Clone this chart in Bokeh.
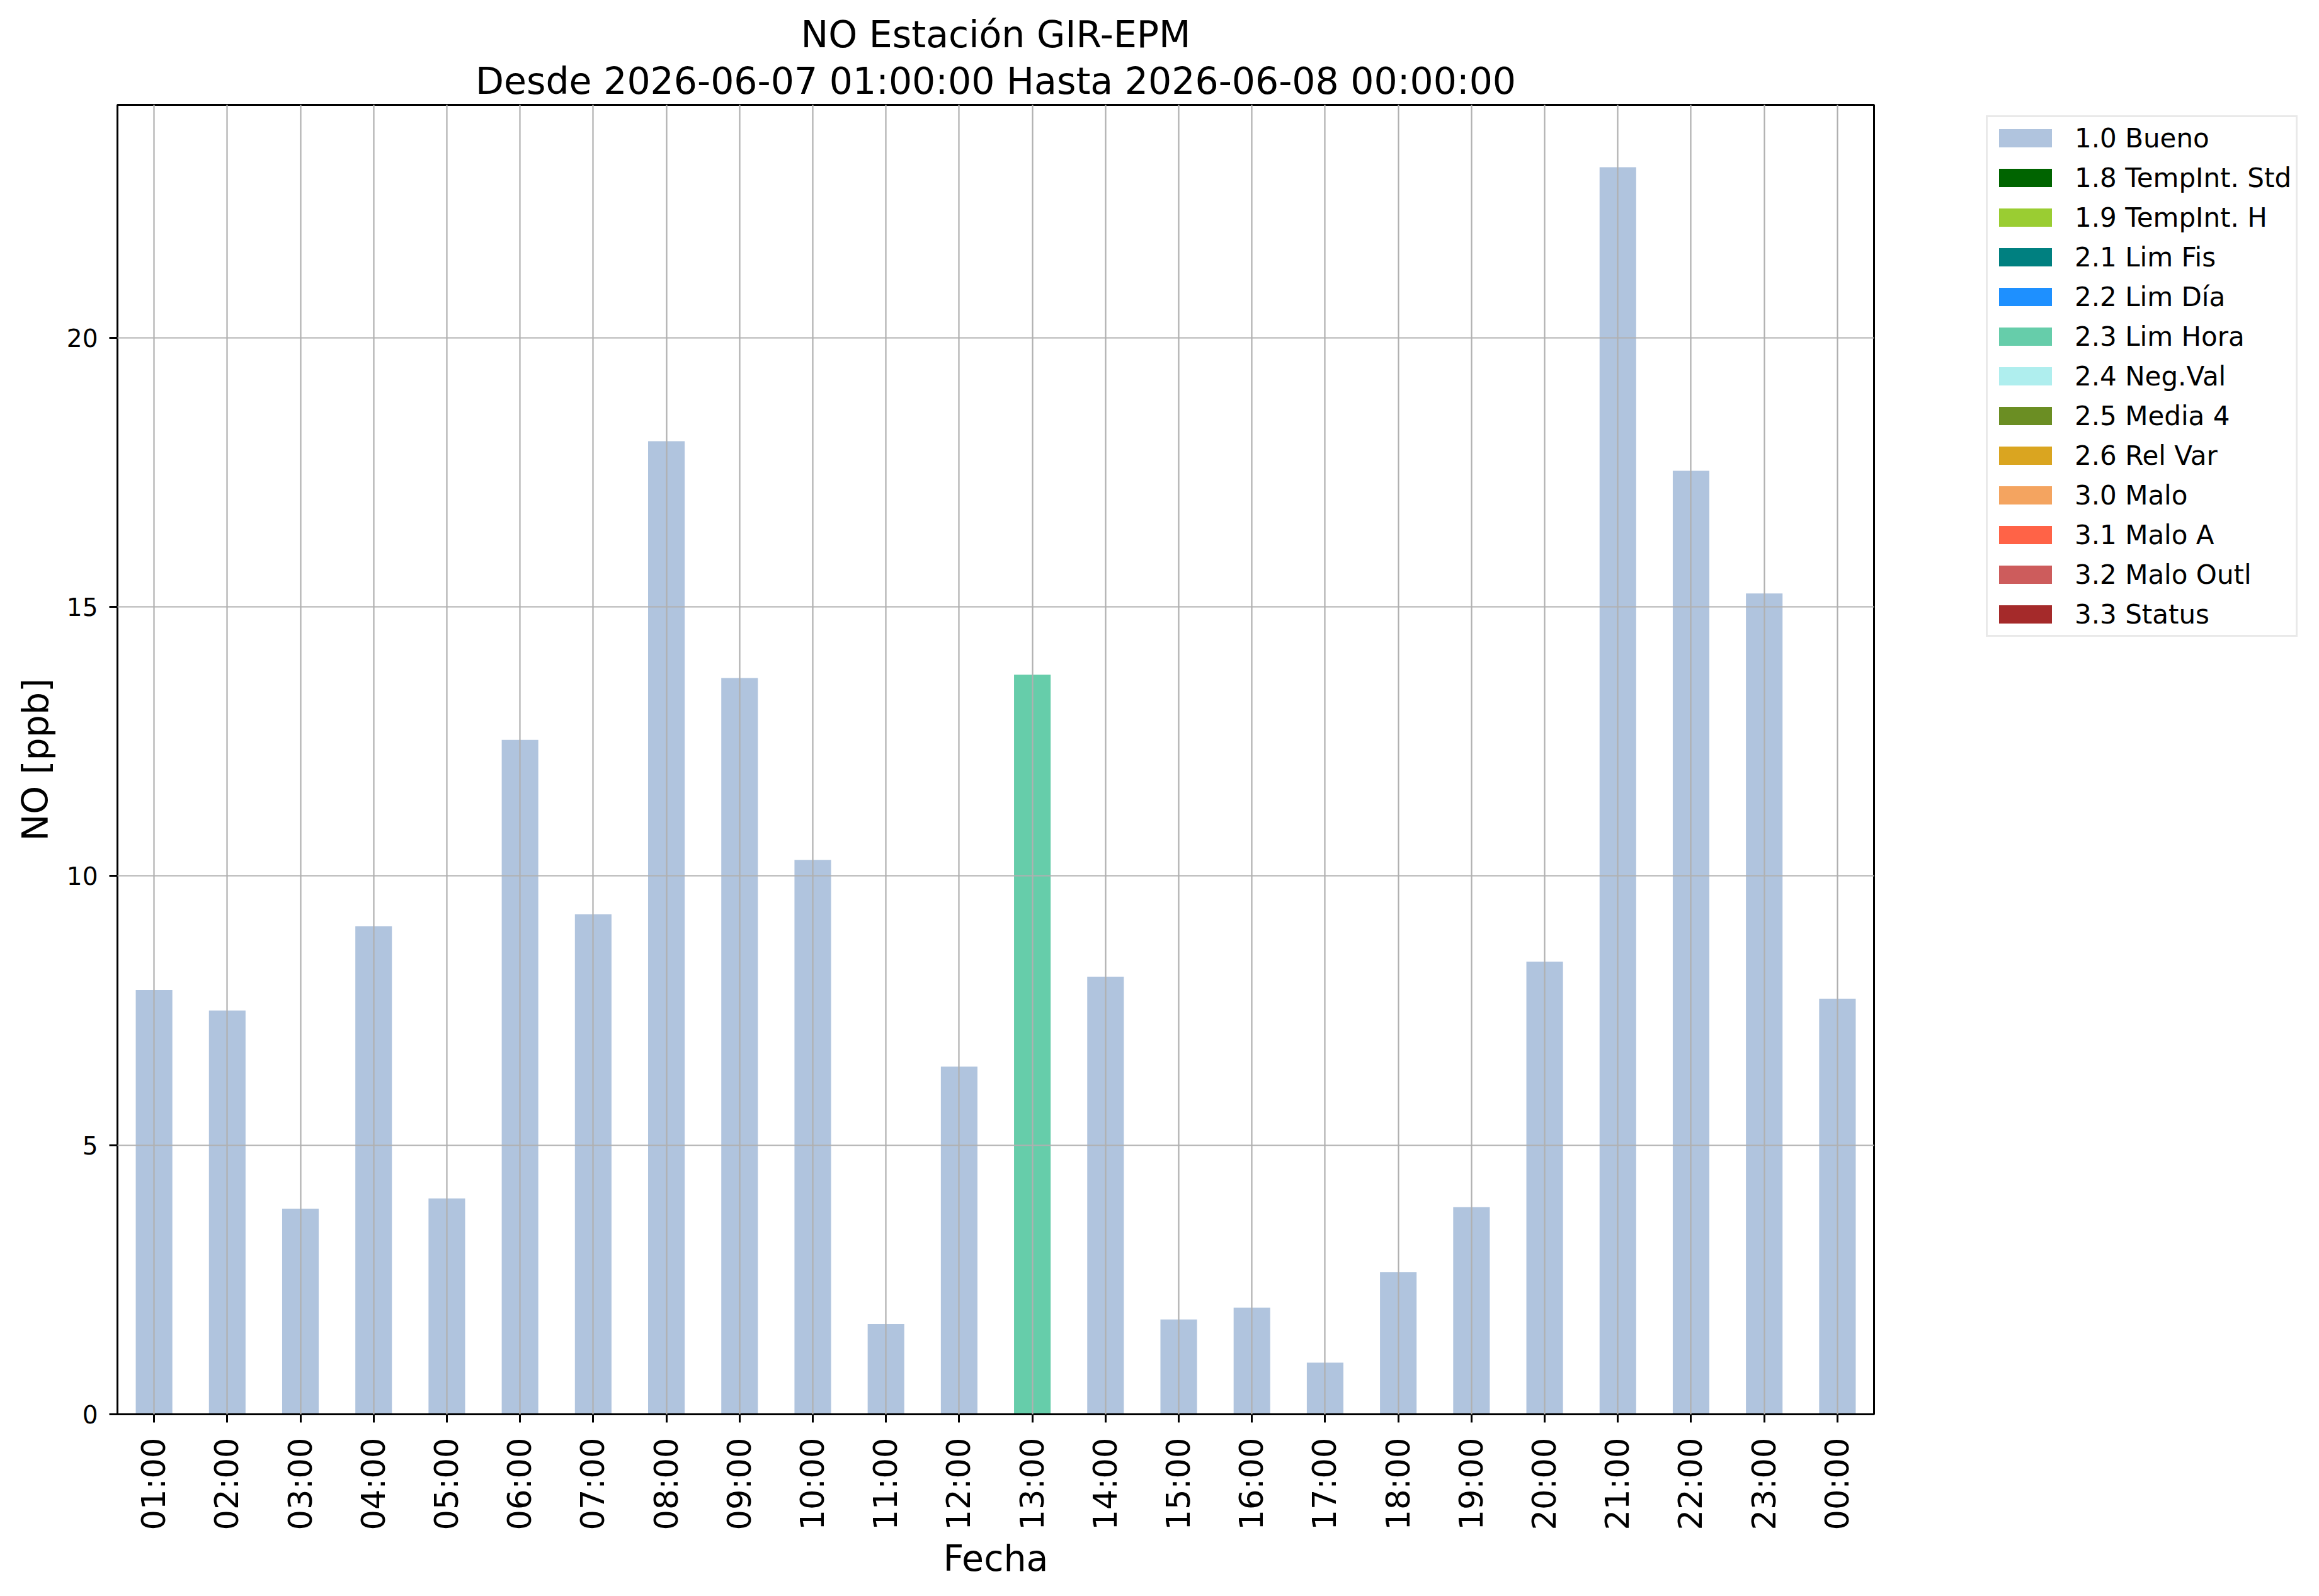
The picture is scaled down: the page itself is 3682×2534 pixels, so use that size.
import math
from bokeh.plotting import figure
from bokeh.models import (FactorRange, Range1d, ColumnDataSource, Legend, LegendItem,
                          FixedTicker, Title)
from bokeh.embed import file_html
from bokeh.resources import INLINE

hours = ["01:00", "02:00", "03:00", "04:00", "05:00", "06:00", "07:00", "08:00",
         "09:00", "10:00", "11:00", "12:00", "13:00", "14:00", "15:00", "16:00",
         "17:00", "18:00", "19:00", "20:00", "21:00", "22:00", "23:00", "00:00"]
values = [7.88, 7.50, 3.82, 9.07, 4.01, 12.53, 9.29, 18.08, 13.68, 10.30, 1.68, 6.46,
          13.74, 8.13, 1.76, 1.98, 0.96, 2.64, 3.85, 8.41, 23.17, 17.53, 15.25, 7.72]
bar_flags = ["1.0 Bueno"] * 12 + ["2.3 Lim Hora"] + ["1.0 Bueno"] * 11

flag_names = ["1.0 Bueno", "1.8 TempInt. Std", "1.9 TempInt. H", "2.1 Lim Fis",
              "2.2 Lim Día", "2.3 Lim Hora", "2.4 Neg.Val", "2.5 Media 4",
              "2.6 Rel Var", "3.0 Malo", "3.1 Malo A", "3.2 Malo Outl", "3.3 Status"]
flag_colors = ["#B0C4DE", "#006400", "#9ACD32", "#008080", "#1E90FF", "#66CDAA",
               "#AFEEEE", "#6B8E23", "#DAA520", "#F4A460", "#FF6347", "#CD5C5C",
               "#A52A2A"]

title_line1 = "NO Estación GIR-EPM"
title_line2 = "Desde 2026-06-07 01:00:00 Hasta 2026-06-08 00:00:00"
x_label = "Fecha"
y_label = "NO [ppb]"
y_ticks = [0, 5, 10, 15, 20]

FONT = "DejaVu Sans"
ymax = max(values) * 1.05

p = figure(x_range=FactorRange(factors=hours), y_range=Range1d(0, ymax),
           frame_width=2789, frame_height=2079,
           min_border_left=186, min_border_top=166, min_border_right=690,
           min_border_bottom=275, output_backend="svg", toolbar_location=None,
           background_fill_color="white", border_fill_color="white")

# titles: the later added title sits closer to the frame
p.title.text = title_line1
p.title.align = "center"
p.title.text_font = FONT
p.title.text_font_size = "58.5px"
p.title.text_font_style = "normal"
p.title.text_color = "black"
p.title.standoff = 0
t2 = Title(text=title_line2, align="center", text_font=FONT, text_font_size="58.5px",
           text_font_style="normal", text_color="black", standoff=8)
p.add_layout(t2, "above")

# one bar series per quality flag (0 where the hour has another flag)
items = []
for name, color in zip(flag_names, flag_colors):
    tops = [v if f == name else 0.0 for v, f in zip(values, bar_flags)]
    src = ColumnDataSource(dict(x=hours, top=tops))
    r = p.vbar(x="x", top="top", width=0.5, bottom=0, source=src,
               fill_color=color, line_color=None)
    items.append(LegendItem(label=name, renderers=[r]))

# grids (drawn over bars like the original)
for g in (p.xgrid, p.ygrid):
    g.grid_line_color = "#b0b0b0"
    g.grid_line_width = 2.2
    g.level = "overlay"
p.ygrid.ticker = FixedTicker(ticks=y_ticks)

p.outline_line_color = "black"
p.outline_line_width = 3
p.outline_line_alpha = 1.0

for ax in (p.xaxis, p.yaxis):
    ax.axis_line_width = 3
    ax.axis_line_color = "black"
    ax.major_tick_line_width = 3
    ax.major_tick_line_color = "black"
    ax.major_tick_out = 13
    ax.major_tick_in = 0
    ax.minor_tick_line_color = None
    ax.major_label_text_font = FONT
    ax.major_label_text_color = "black"
    ax.axis_label_text_font = FONT
    ax.axis_label_text_color = "black"
    ax.axis_label_text_font_style = "normal"
    ax.axis_label_text_font_size = "57px"

p.yaxis.ticker = FixedTicker(ticks=y_ticks)
p.yaxis.major_label_text_font_size = "39px"
p.yaxis.major_label_standoff = 18
p.yaxis.axis_label = y_label
p.yaxis.axis_label_standoff = 14

p.xaxis.major_label_text_font_size = "51px"
p.xaxis.major_label_orientation = math.pi / 2
p.xaxis.major_label_standoff = 24
p.xaxis.axis_label = x_label
p.xaxis.axis_label_standoff = 9

legend = Legend(items=items, location=(178, 1234), margin=0,
                label_text_font=FONT, label_text_font_size="42px",
                label_text_color="black",
                label_text_baseline="middle",
                glyph_width=105, glyph_height=36, label_standoff=26,
                label_height=52, spacing=11, padding=7,
                border_line_color="#d4d4d4", border_line_width=3,
                background_fill_color="white", background_fill_alpha=1.0)
p.add_layout(legend, "right")

open("out.html", "w").write(file_html(p, INLINE))
